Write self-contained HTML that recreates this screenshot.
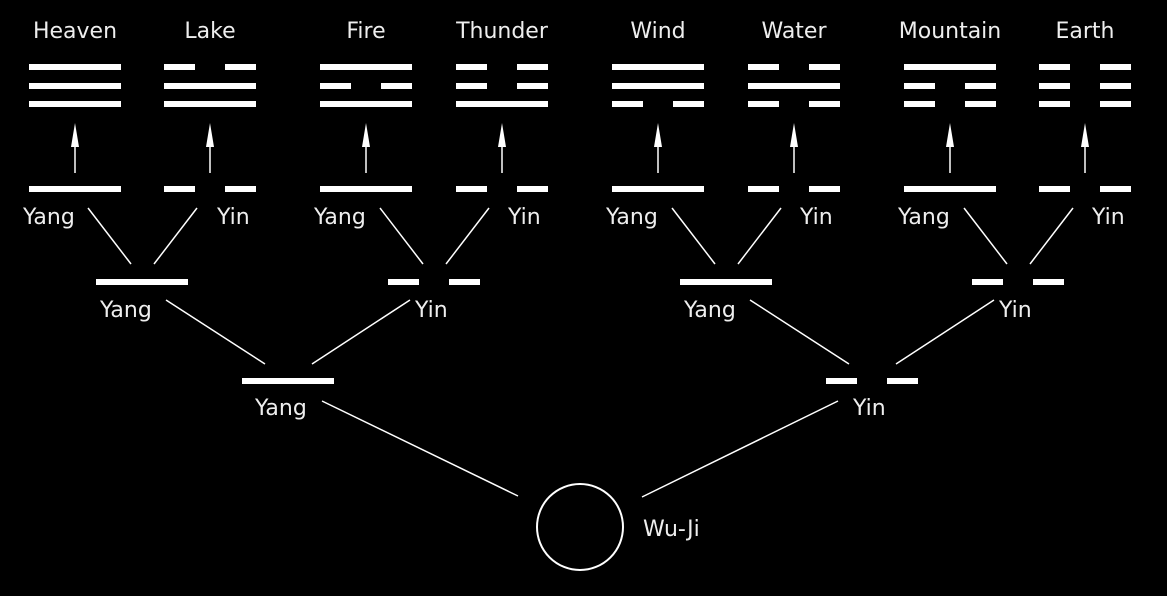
<!DOCTYPE html>
<html><head><meta charset="utf-8"><style>html,body{margin:0;padding:0;background:#000;}svg{display:block}</style></head>
<body>
<svg width="1167" height="596" viewBox="0 0 1167 596" xmlns="http://www.w3.org/2000/svg" font-family="'DejaVu Sans','Liberation Sans',sans-serif" font-size="22" fill="#fff">
<rect width="1167" height="596" fill="#000"/>
<g fill="#fff">
<!-- Titles -->
<g text-anchor="middle" fill="#eee">
<text x="75" y="38">Heaven</text><text x="210" y="38">Lake</text>
<text x="366" y="38">Fire</text><text x="502" y="38">Thunder</text>
<text x="658" y="38">Wind</text><text x="794" y="38">Water</text>
<text x="950" y="38">Mountain</text><text x="1085" y="38">Earth</text>
</g>
<!-- Heaven 29 -->
<rect x="29" y="64" width="92" height="6"/><rect x="29" y="83" width="92" height="6"/><rect x="29" y="101" width="92" height="6"/>
<!-- Lake 164 -->
<rect x="164" y="64" width="31" height="6"/><rect x="225" y="64" width="31" height="6"/><rect x="164" y="83" width="92" height="6"/><rect x="164" y="101" width="92" height="6"/>
<!-- Fire 320 -->
<rect x="320" y="64" width="92" height="6"/><rect x="320" y="83" width="31" height="6"/><rect x="381" y="83" width="31" height="6"/><rect x="320" y="101" width="92" height="6"/>
<!-- Thunder 456 -->
<rect x="456" y="64" width="31" height="6"/><rect x="517" y="64" width="31" height="6"/><rect x="456" y="83" width="31" height="6"/><rect x="517" y="83" width="31" height="6"/><rect x="456" y="101" width="92" height="6"/>
<!-- Wind 612 -->
<rect x="612" y="64" width="92" height="6"/><rect x="612" y="83" width="92" height="6"/><rect x="612" y="101" width="31" height="6"/><rect x="673" y="101" width="31" height="6"/>
<!-- Water 748 -->
<rect x="748" y="64" width="31" height="6"/><rect x="809" y="64" width="31" height="6"/><rect x="748" y="83" width="92" height="6"/><rect x="748" y="101" width="31" height="6"/><rect x="809" y="101" width="31" height="6"/>
<!-- Mountain 904 -->
<rect x="904" y="64" width="92" height="6"/><rect x="904" y="83" width="31" height="6"/><rect x="965" y="83" width="31" height="6"/><rect x="904" y="101" width="31" height="6"/><rect x="965" y="101" width="31" height="6"/>
<!-- Earth 1039 -->
<rect x="1039" y="64" width="31" height="6"/><rect x="1100" y="64" width="31" height="6"/><rect x="1039" y="83" width="31" height="6"/><rect x="1100" y="83" width="31" height="6"/><rect x="1039" y="101" width="31" height="6"/><rect x="1100" y="101" width="31" height="6"/>

<!-- Level3 lines -->
<rect x="29" y="186" width="92" height="6"/>
<rect x="164" y="186" width="31" height="6"/><rect x="225" y="186" width="31" height="6"/>
<rect x="320" y="186" width="92" height="6"/>
<rect x="456" y="186" width="31" height="6"/><rect x="517" y="186" width="31" height="6"/>
<rect x="612" y="186" width="92" height="6"/>
<rect x="748" y="186" width="31" height="6"/><rect x="809" y="186" width="31" height="6"/>
<rect x="904" y="186" width="92" height="6"/>
<rect x="1039" y="186" width="31" height="6"/><rect x="1100" y="186" width="31" height="6"/>

<!-- Level2 lines -->
<rect x="96" y="279" width="92" height="6"/>
<rect x="388" y="279" width="31" height="6"/><rect x="449" y="279" width="31" height="6"/>
<rect x="680" y="279" width="92" height="6"/>
<rect x="972" y="279" width="31" height="6"/><rect x="1033" y="279" width="31" height="6"/>

<!-- Level1 lines -->
<rect x="242" y="378" width="92" height="6"/>
<rect x="826" y="378" width="31" height="6"/><rect x="887" y="378" width="31" height="6"/>
</g>

<!-- Arrows -->
<g stroke="#fff" stroke-width="1.5">
<line x1="75" y1="173" x2="75" y2="140"/><line x1="210" y1="173" x2="210" y2="140"/>
<line x1="366" y1="173" x2="366" y2="140"/><line x1="502" y1="173" x2="502" y2="140"/>
<line x1="658" y1="173" x2="658" y2="140"/><line x1="794" y1="173" x2="794" y2="140"/>
<line x1="950" y1="173" x2="950" y2="140"/><line x1="1085" y1="173" x2="1085" y2="140"/>
</g>
<g fill="#fff">
<polygon points="75,123 71,147 79,147"/><polygon points="210,123 206,147 214,147"/>
<polygon points="366,123 362,147 370,147"/><polygon points="502,123 498,147 506,147"/>
<polygon points="658,123 654,147 662,147"/><polygon points="794,123 790,147 798,147"/>
<polygon points="950,123 946,147 954,147"/><polygon points="1085,123 1081,147 1089,147"/>
</g>

<!-- Connectors -->
<g stroke="#fff" stroke-width="1.5">
<line x1="88" y1="208" x2="131" y2="264"/><line x1="197" y1="208" x2="154" y2="264"/>
<line x1="380" y1="208" x2="423" y2="264"/><line x1="489" y1="208" x2="446" y2="264"/>
<line x1="672" y1="208" x2="715" y2="264"/><line x1="781" y1="208" x2="738" y2="264"/>
<line x1="964" y1="208" x2="1007" y2="264"/><line x1="1073" y1="208" x2="1030" y2="264"/>
<line x1="166" y1="300" x2="265" y2="364"/><line x1="410" y1="300" x2="312" y2="364"/>
<line x1="750" y1="300" x2="849" y2="364"/><line x1="994" y1="300" x2="896" y2="364"/>
<line x1="322" y1="401" x2="518" y2="496"/><line x1="838" y1="401" x2="642" y2="497"/>
</g>
<circle cx="580" cy="527" r="43" fill="none" stroke="#fff" stroke-width="2"/>

<!-- Labels -->
<g fill="#eee">
<text x="23" y="224">Yang</text><text x="217" y="224">Yin</text>
<text x="314" y="224">Yang</text><text x="508" y="224">Yin</text>
<text x="606" y="224">Yang</text><text x="800" y="224">Yin</text>
<text x="898" y="224">Yang</text><text x="1092" y="224">Yin</text>
<text x="100" y="317">Yang</text><text x="415" y="317">Yin</text>
<text x="684" y="317">Yang</text><text x="999" y="317">Yin</text>
<text x="255" y="415">Yang</text><text x="853" y="415">Yin</text>
<text x="643" y="536">Wu-Ji</text>
</g>
</svg>
</body></html>
